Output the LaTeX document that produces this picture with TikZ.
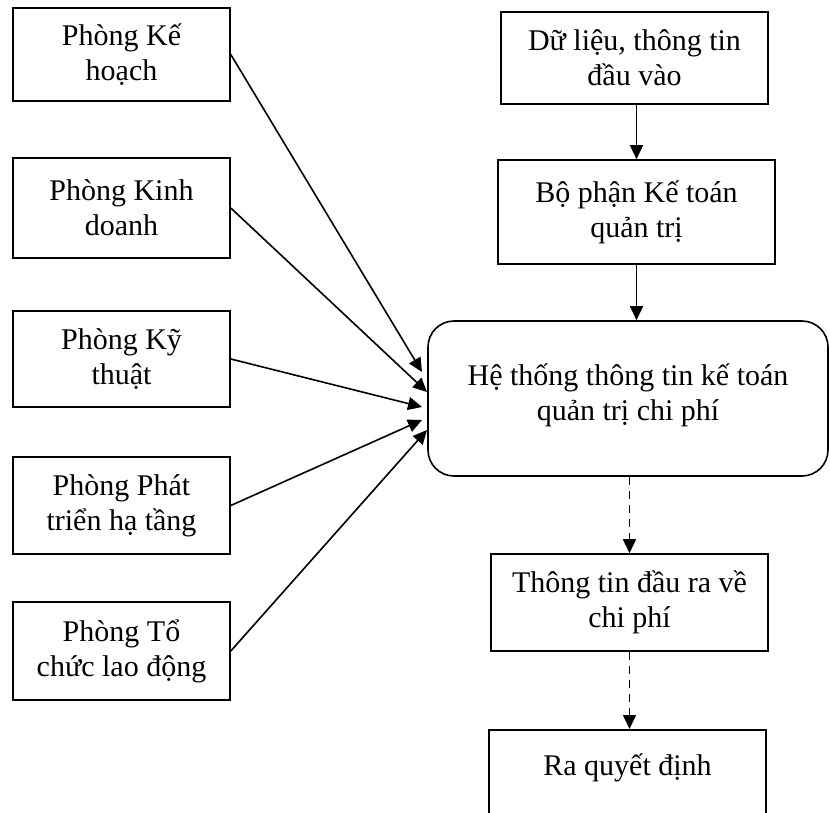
\documentclass[tikz,border=0pt]{standalone}
\usepackage{fontspec}
\setmainfont{Liberation Serif}
\usetikzlibrary{arrows.meta}
\begin{document}
\begin{tikzpicture}[x=1pt,y=-1pt,
  every node/.style={font=\fontsize{30}{35}\selectfont, align=center, inner sep=0pt},
  box/.style={draw, line width=1.6pt, rectangle},
  sysbox/.style={draw, line width=1.6pt, rectangle, rounded corners=26pt},
  flow/.style={line width=1.6pt, -{Triangle[length=14pt,width=13pt]}},
  dflow/.style={flow, dash pattern=on 8pt off 6pt}
]
\useasboundingbox (0,0) rectangle (830,813);
\clip (0,0) rectangle (830,813);

% departments on the left
\node[box, minimum width=217pt, minimum height=93pt] (p1) at (121.5,54.5) {Phòng Kế\\hoạch};
\node[box, minimum width=217pt, minimum height=100pt] (p2) at (121.5,208) {Phòng Kinh\\doanh};
\node[box, minimum width=217pt, minimum height=96pt] (p3) at (121.5,359) {Phòng Kỹ\\thuật};
\node[box, minimum width=217pt, minimum height=97pt] (p4) at (121.5,505.5) {Phòng Phát\\triển hạ tầng};
\node[box, minimum width=217pt, minimum height=98pt] (p5) at (121.5,651) {Phòng Tổ\\chức lao động};

% main column
\node[box, minimum width=267pt, minimum height=92pt] (in) at (634.5,58) {Dữ liệu, thông tin\\đầu vào};
\node[box, minimum width=277pt, minimum height=104pt] (acc) at (636.5,212) {Bộ phận Kế toán\\quản trị};
\node[sysbox, minimum width=400pt, minimum height=155pt] (sys) at (628,398.5) {Hệ thống thông tin kế toán\\quản trị chi phí\\[-23pt]};
\node[box, minimum width=277pt, minimum height=97pt] (out) at (629.5,602.5) {Thông tin đầu ra về\\chi phí};
\node[box, anchor=north, minimum width=277pt, text height=46pt, text depth=66pt] (dec) at (627.5,729) {Ra quyết định};

% arrow ends at the system box
\coordinate (t1) at (422,372);
\coordinate (t2) at (427,392);
\coordinate (t3) at (422,407);
\coordinate (t4) at (422,420);
\coordinate (t5) at (427,430);

\draw[flow] (p1.east) -- (t1);
\draw[flow] (p2.east) -- (t2);
\draw[flow] (p3.east) -- (t3);
\draw[flow] (p4.east) -- (t4);
\draw[flow] (p5.east) -- (t5);

\draw[flow] (acc.north |- in.south) -- (acc.north);
\draw[flow] (acc.south) -- (acc.south |- sys.north);
\draw[dflow] (out.north |- sys.south) -- (out.north);
\draw[dflow] (out.south) -- (out.south |- dec.north);
\end{tikzpicture}
\end{document}
